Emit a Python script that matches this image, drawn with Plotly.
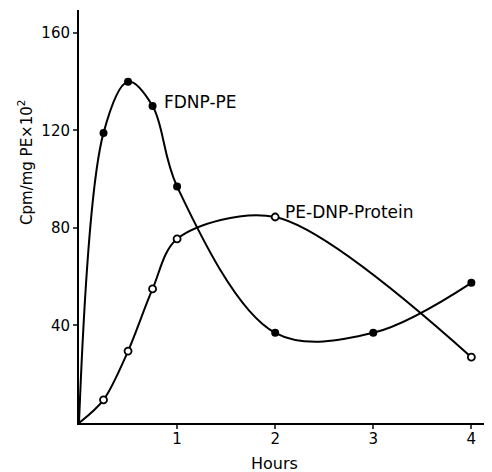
import plotly.graph_objects as go

hours = [0, 0.25, 0.5, 0.75, 1, 2, 3, 4]
fdnp_pe = [0, 119, 140, 130, 97, 37, 37, 57.5]

hours_p = [0, 0.25, 0.5, 0.75, 1, 2, 4]
pe_dnp_protein = [0, 9.5, 29.5, 55, 75.5, 84.5, 27]

x_ticks = [1, 2, 3, 4]
y_ticks = [40, 80, 120, 160]

FONT = "DejaVu Sans"

fig = go.Figure()
fig.add_trace(go.Scatter(x=hours, y=fdnp_pe, mode="lines",
                         line=dict(color="black", width=2, shape="spline", smoothing=1.0),
                         hoverinfo="skip", showlegend=False))
fig.add_trace(go.Scatter(x=hours_p, y=pe_dnp_protein, mode="lines",
                         line=dict(color="black", width=2, shape="spline", smoothing=0.9),
                         hoverinfo="skip", showlegend=False))
fig.add_trace(go.Scatter(x=hours[1:], y=fdnp_pe[1:], mode="markers",
                         marker=dict(color="black", size=8, symbol="circle"),
                         showlegend=False))
fig.add_trace(go.Scatter(x=hours_p[1:], y=pe_dnp_protein[1:], mode="markers",
                         marker=dict(color="white", size=7, symbol="circle",
                                     line=dict(color="black", width=1.8)),
                         showlegend=False))

fig.add_annotation(x=0.85, y=131.5, xref="x", yref="y", text="FDNP-PE",
                   showarrow=False, xanchor="left", yanchor="middle",
                   font=dict(family=FONT, size=17, color="black"))
fig.add_annotation(x=2.08, y=86.5, xref="x", yref="y", text="PE-DNP-Protein",
                   showarrow=False, xanchor="left", yanchor="middle",
                   font=dict(family=FONT, size=17, color="black"))
fig.add_annotation(x=-0.131, y=0.63, xref="paper", yref="paper",
                   text="Cpm/mg PE×10<sup>2</sup>", textangle=-90,
                   showarrow=False, xanchor="center", yanchor="middle",
                   font=dict(family=FONT, size=15, color="black"))
fig.add_annotation(x=0.475, y=-0.097, xref="paper", yref="paper",
                   text="Hours", showarrow=False, xanchor="center", yanchor="middle",
                   font=dict(family=FONT, size=16, color="black"))

fig.update_layout(
    width=484, height=464,
    margin=dict(l=71, r=2, t=2, b=49),
    paper_bgcolor="white", plot_bgcolor="white",
    font=dict(family=FONT, size=15, color="black"),
)
fig.update_xaxes(range=[0, 4.19], tickvals=x_ticks, ticks="outside", ticklen=4,
                 tickwidth=2, showline=True, linecolor="black", linewidth=2,
                 showgrid=False, zeroline=False, tickfont=dict(size=15),
                 ticklabelstandoff=-3)
fig.update_yaxes(range=[0, 169.4], tickvals=y_ticks, ticks="outside", ticklen=4,
                 tickwidth=2, showline=True, linecolor="black", linewidth=2,
                 showgrid=False, zeroline=False, tickfont=dict(size=15))

fig.write_html("out.html")
